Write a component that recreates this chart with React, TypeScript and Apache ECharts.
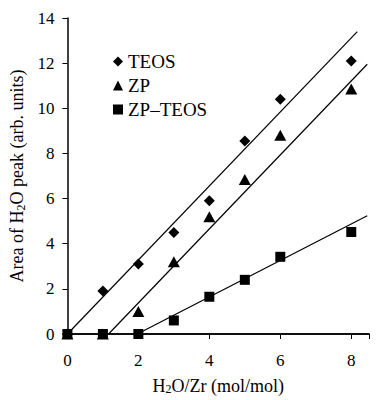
import React, { useEffect, useRef } from "react";
import * as echarts from "echarts";

const xValues = [0, 1, 2, 3, 4, 5, 6, 8];
const teos = [0, 1.9, 3.1, 4.5, 5.9, 8.55, 10.4, 12.1];
const zp = [0, 0, 1.0, 3.2, 5.2, 6.85, 8.8, 10.85];
const zpTeos = [0, 0, 0, 0.6, 1.65, 2.4, 3.42, 4.52];

const teosFit = [[0, 0], [8.17, 13.4]];
const zpFit = [[1.16, 0], [8.45, 11.95]];
const zpTeosFit = [[1.97, 0], [8.45, 5.24]];

const seriesNames = ["TEOS", "ZP", "ZP\u2013TEOS"];
const xTicks = [0, 2, 4, 6, 8];

const font = "'Liberation Serif', 'DejaVu Serif', serif";

export default function App() {
  const ref = useRef<HTMLDivElement>(null);
  useEffect(() => {
    const chart = echarts.init(ref.current!, null, { renderer: "svg" });
    const pts = (ys: number[]) => xValues.map((x, i) => [x, ys[i]]);
    const lineStyle = { color: "#000", width: 1.2 };
    const rich = {
      n: { fontSize: 18, fontFamily: font, color: "#000" },
      s: { fontSize: 12, fontFamily: font, color: "#000", verticalAlign: "bottom", padding: [7, 0, 0, 0] },
    };
    chart.setOption({
      animation: false,
      backgroundColor: "#fff",
      textStyle: { fontFamily: font, color: "#000" },
      legend: {
        orient: "vertical",
        left: 108,
        top: 47,
        itemWidth: 10,
        itemHeight: 10,
        itemGap: 5,
        data: seriesNames,
        textStyle: { fontFamily: font, fontSize: 19, color: "#000" },
      },
      grid: { left: 67, top: 18, right: 11, bottom: 64 },
      xAxis: [
        {
          type: "value",
          min: 0,
          max: 8.5,
          interval: 2,
          axisLine: { show: true, onZero: false, lineStyle: { color: "#000", width: 1.5 } },
          axisTick: { show: true, length: 5, lineStyle: { color: "#000" } },
          axisLabel: {
            color: "#000",
            fontSize: 17,
            fontFamily: font,
            margin: 18,
            customValues: xTicks,
          },
          splitLine: { show: false },
          name: "{n|H}{s|2}{n|O/Zr (mol/mol)}",
          nameLocation: "middle",
          nameGap: 42,
          nameTextStyle: { rich },
        },
        {
          type: "value",
          position: "top",
          min: 0,
          max: 8.5,
          axisLine: { show: true, lineStyle: { color: "#000", width: 1.5 } },
          axisTick: { show: false },
          axisLabel: { show: false },
          splitLine: { show: false },
        },
      ],
      yAxis: {
        type: "value",
        min: 0,
        max: 14,
        interval: 2,
        axisLine: { show: true, lineStyle: { color: "#000", width: 1.5 } },
        axisTick: { show: true, length: 5, lineStyle: { color: "#000" } },
        axisLabel: { color: "#000", fontSize: 17, fontFamily: font, margin: 13 },
        splitLine: { show: false },
        name: "{n|Area of H}{s|2}{n|O peak (arb. units)}",
        nameLocation: "middle",
        nameGap: 36,
        nameRotate: 90,
        nameTextStyle: { rich },
      },
      series: [
        { type: "line", data: teosFit, showSymbol: false, symbol: "none", lineStyle, silent: true, z: 1 },
        { type: "line", data: zpFit, showSymbol: false, symbol: "none", lineStyle, silent: true, z: 1 },
        { type: "line", data: zpTeosFit, showSymbol: false, symbol: "none", lineStyle, silent: true, z: 1 },
        {
          name: seriesNames[0],
          type: "scatter",
          symbol: "diamond",
          symbolSize: [11, 11],
          itemStyle: { color: "#000", opacity: 1 },
          data: pts(teos),
          z: 3,
        },
        {
          name: seriesNames[1],
          type: "scatter",
          symbol: "triangle",
          symbolSize: [12, 11],
          itemStyle: { color: "#000", opacity: 1 },
          data: pts(zp),
          z: 3,
        },
        {
          name: seriesNames[2],
          type: "scatter",
          symbol: "rect",
          symbolSize: 10,
          itemStyle: { color: "#000", opacity: 1 },
          data: pts(zpTeos),
          z: 3,
        },
      ],
    });
    return () => chart.dispose();
  }, []);
  return <div ref={ref} style={{ width: 380, height: 400, position: "absolute", left: 0, top: 0 }} />;
}
